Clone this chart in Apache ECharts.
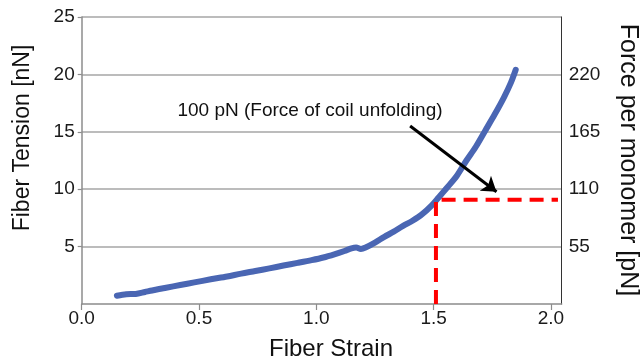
<!DOCTYPE html>
<html>
<head>
<meta charset="utf-8">
<script src="https://cdn.jsdelivr.net/npm/echarts@6/dist/echarts.min.js"></script>
<style>html,body{margin:0;padding:0;background:#fff;}#c{width:643px;height:364px;}</style>
</head>
<body>
<div id="c"></div>
<script>
// Data
const strain  = [0.15,0.19,0.23,0.27,0.30,0.36,0.42,0.48,0.55,0.62,0.68,0.74,0.80,0.86,0.92,0.98,1.03,1.08,1.12,1.15,1.17,1.19,1.21,1.25,1.29,1.33,1.37,1.41,1.45,1.49,1.52,1.56,1.60,1.64,1.68,1.72,1.76,1.80,1.83,1.85];
const tension = [0.72,0.85,0.88,1.05,1.18,1.42,1.65,1.88,2.15,2.40,2.65,2.87,3.10,3.35,3.58,3.82,4.05,4.35,4.62,4.85,4.92,4.80,4.92,5.35,5.85,6.30,6.80,7.25,7.80,8.55,9.25,10.2,11.2,12.5,13.7,15.1,16.5,18.0,19.3,20.4];
const xTicks = [0, 0.5, 1.0, 1.5, 2.0];
const leftTicks = [5, 10, 15, 20, 25];
const rightTicks = [55, 110, 165, 220];
const unfoldStrain = [1.51, 1.51, 2.03];
const unfoldTension = [0, 9.09, 9.09];
const arrowStart = [1.40, 15.5];
const arrowEnd = [1.768, 9.78];
const annotation = '100 pN (Force of coil unfolding)';
const xTitle = 'Fiber Strain';
const yTitle = 'Fiber Tension [nN]';
const y2Title = 'Force per monomer [pN]';

const FONT = '"Liberation Sans", Arial, sans-serif';
const chart = echarts.init(document.getElementById('c'), null, {renderer: 'canvas'});
const curve = strain.map((x, i) => [x, tension[i]]);
const dashed = unfoldStrain.map((x, i) => [x, unfoldTension[i]]);

chart.setOption({
  animation: false,
  backgroundColor: '#fff',
  grid: {left: 81.7, right: 81.3, top: 17, bottom: 60, containLabel: false},
  xAxis: {
    type: 'value', min: 0, max: 2.046,
    axisLine: {show: true, lineStyle: {color: '#8c8c8c', width: 1.5}},
    axisTick: {show: true, length: 6, lineStyle: {color: '#8c8c8c', width: 1.2}, customValues: xTicks},
    axisLabel: {customValues: xTicks, formatter: v => v.toFixed(1), color: '#1a1a1a', fontSize: 19, fontFamily: FONT, margin: 5},
    splitLine: {show: false}
  },
  yAxis: [{
    type: 'value', min: 0, max: 25, interval: 5, position: 'left',
    axisLine: {show: true, lineStyle: {color: '#8c8c8c', width: 1.5}},
    axisTick: {show: true, length: 4, inside: false, lineStyle: {color: '#8c8c8c', width: 1.2}, customValues: leftTicks},
    axisLabel: {customValues: leftTicks, color: '#1a1a1a', fontSize: 19, fontFamily: FONT, margin: 7},
    splitLine: {show: true, lineStyle: {color: '#a6a6a6', width: 1.6}}
  }, {
    type: 'value', min: 0, max: 275, interval: 55, position: 'right',
    axisLine: {show: true, lineStyle: {color: '#333', width: 1}},
    axisTick: {show: false},
    axisLabel: {customValues: rightTicks, color: '#1a1a1a', fontSize: 19, fontFamily: FONT, margin: 7},
    splitLine: {show: false}
  }],
  series: [{
    type: 'line', data: curve, showSymbol: false, symbol: 'none', smooth: 0.3,
    lineStyle: {color: '#4a66b3', width: 6, cap: 'round', join: 'round'},
    z: 3
  }, {
    type: 'line', data: dashed, showSymbol: false, symbol: 'none',
    lineStyle: {color: '#ff0000', width: 4, type: [14, 8]},
    z: 4,
    markLine: {
      silent: true, symbol: ['none', 'arrow'], symbolSize: 14,
      lineStyle: {color: '#000', width: 3, type: 'solid'},
      label: {show: false},
      data: [[{coord: arrowStart}, {coord: arrowEnd}]]
    }
  }],
  graphic: [
    {type: 'text', x: 310, y: 111, style: {text: annotation, font: '19px ' + FONT, fill: '#111', textAlign: 'center', textVerticalAlign: 'middle'}},
    {type: 'text', x: 331, y: 349, style: {text: xTitle, font: '24px ' + FONT, fill: '#111', textAlign: 'center', textVerticalAlign: 'middle'}},
    {type: 'text', x: 23, y: 138, rotation: Math.PI / 2, style: {text: yTitle, font: '23px ' + FONT, fill: '#111', textAlign: 'center', textVerticalAlign: 'middle'}},
    {type: 'text', x: 628, y: 160, rotation: -Math.PI / 2, style: {text: y2Title, font: '25px ' + FONT, fill: '#111', textAlign: 'center', textVerticalAlign: 'middle'}}
  ]
});
</script>
</body>
</html>
